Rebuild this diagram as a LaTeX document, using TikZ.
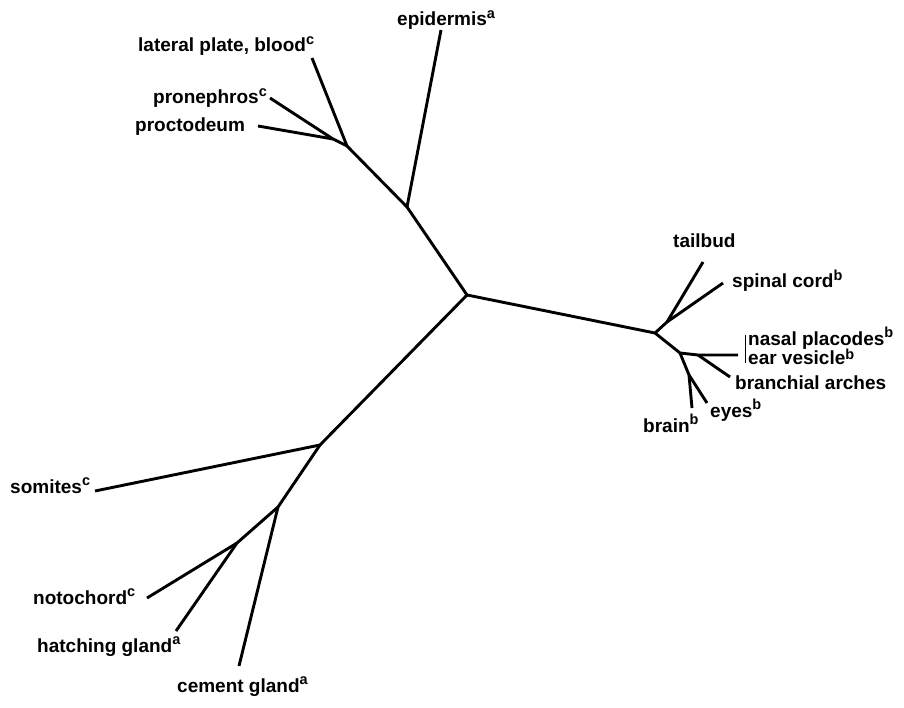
\documentclass[tikz,border=0pt]{standalone}
\usepackage{fontspec}
\setmainfont{Liberation Sans}
\newcommand{\supl}[1]{\raisebox{7.5pt}{\fontsize{14.5}{14.5}\selectfont\bfseries #1}}
\newcommand{\suplow}[1]{\raisebox{5pt}{\fontsize{14.5}{14.5}\selectfont\bfseries #1}}
\newcommand{\tightlns}{\lineskiplimit=-50pt\relax\lineskip=0pt\relax}
\begin{document}
\begin{tikzpicture}[x=1pt,y=-1pt,
  edge/.style={line width=2.9pt,line cap=butt,line join=round},
  lbl/.style={anchor=base west,inner sep=0pt,font=\fontsize{19}{19}\selectfont\bfseries}]
\useasboundingbox (0,0) rectangle (904,708);
% internal nodes
\coordinate (C) at (467,295);
\coordinate (N0) at (407,207);
\coordinate (N1) at (347,146);
\coordinate (N2) at (333,139);
\coordinate (R0) at (655,333);
\coordinate (R1) at (667,322);
\coordinate (R2) at (680,353);
\coordinate (R3) at (698,355);
\coordinate (R4) at (689,375);
\coordinate (L0) at (320,445);
\coordinate (L1) at (278,507);
\coordinate (L2) at (237,543);
% tips
\coordinate (tEpi) at (441,30);
\coordinate (tLat) at (312,58);
\coordinate (tPro) at (270,98);
\coordinate (tProc) at (258,126);
\coordinate (tTail) at (703,262);
\coordinate (tSpin) at (723,283);
\coordinate (tNas) at (738,355);
\coordinate (tBran) at (730,377);
\coordinate (tEyes) at (707,403);
\coordinate (tBrain) at (692,408);
\coordinate (tSom) at (95,491);
\coordinate (tNoto) at (147,598);
\coordinate (tHatch) at (176,631);
\coordinate (tCem) at (239,666);
% edges
\draw[edge] (C) -- (N0) -- (N1) -- (N2) -- (tPro);
\draw[edge] (N0) -- (tEpi);
\draw[edge] (N1) -- (tLat);
\draw[edge] (N2) -- (tProc);
\draw[edge] (C) -- (R0) -- (R1) -- (tTail);
\draw[edge] (R1) -- (tSpin);
\draw[edge] (R0) -- (R2) -- (R3) -- (tNas);
\draw[edge] (R3) -- (tBran);
\draw[edge] (R2) -- (R4) -- (tBrain);
\draw[edge] (R4) -- (tEyes);
\draw[edge] (C) -- (L0) -- (tSom);
\draw[edge] (L0) -- (L1) -- (L2) -- (tNoto);
\draw[edge] (L2) -- (tHatch);
\draw[edge] (L1) -- (tCem);
% bracket for nasal placodes / ear vesicle
\coordinate (bTop) at (745,335);
\coordinate (bBot) at (745,363);
\draw[line width=1pt] (bTop) -- (bBot);
% labels
\node[lbl] (lEpi) at (397,26) {epidermis\supl{a}};
\node[lbl] (lLat) at (138,52) {lateral plate, blood\supl{c}};
\node[lbl] (lPro) at (153,104) {pronephros\supl{c}};
\node[lbl] (lProc) at (135,132) {proctodeum};
\node[lbl] (lTail) at (673,248) {tailbud};
\node[lbl] (lSpin) at (732,288) {spinal cord\supl{b}};
\node[lbl,align=left,font=\fontsize{19}{19}\selectfont\bfseries\tightlns] (lNas) at (748,364) {nasal placodes\supl{b}\\ear vesicle\suplow{b}};
\node[lbl] (lBran) at (735,389) {branchial arches};
\node[lbl] (lEyes) at (710,417) {eyes\supl{b}};
\node[lbl] (lBrain) at (643,432) {brain\supl{b}};
\node[lbl] (lSom) at (10,493) {somites\supl{c}};
\node[lbl] (lNoto) at (33,604) {notochord\supl{c}};
\node[lbl] (lHatch) at (37,652) {hatching gland\supl{a}};
\node[lbl] (lCem) at (177,692) {cement gland\supl{a}};
\end{tikzpicture}
\end{document}
